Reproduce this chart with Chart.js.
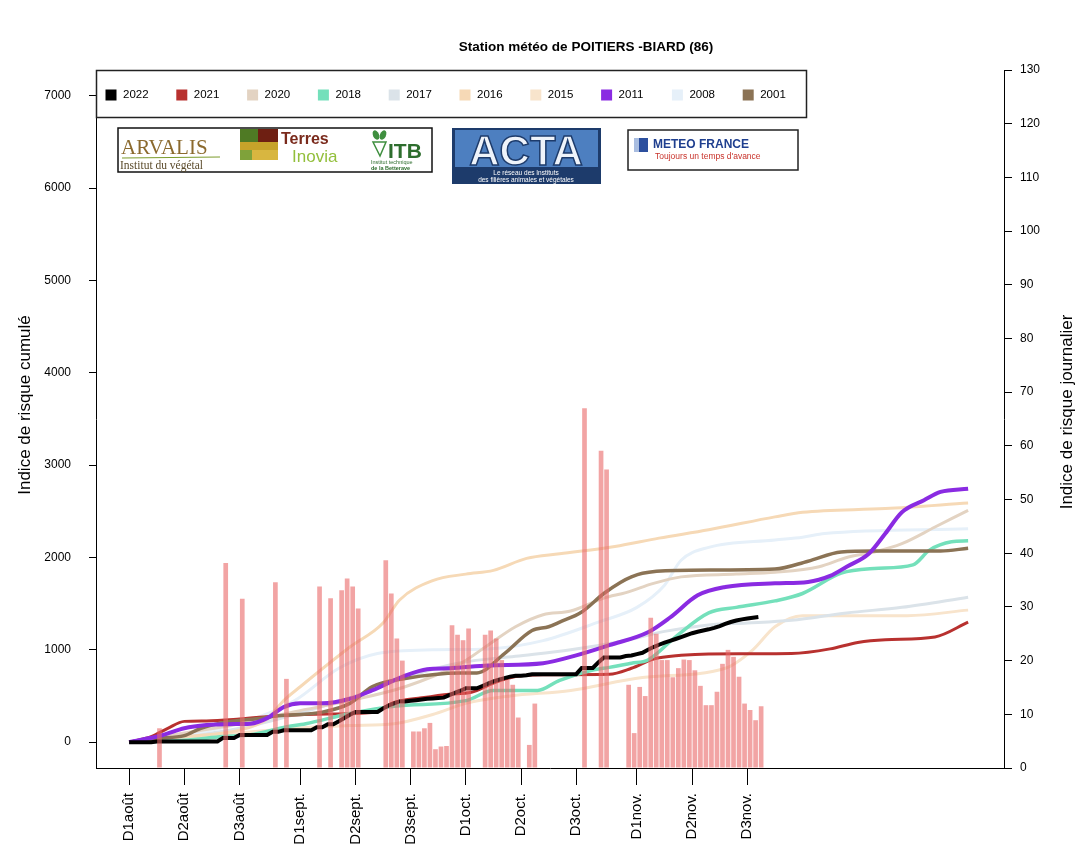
<!DOCTYPE html>
<html>
<head>
<meta charset="utf-8">
<script src="https://cdn.jsdelivr.net/npm/chart.js@4.4.1/dist/chart.umd.min.js"></script>
<style>
  html, body { margin: 0; padding: 0; background: #fff; }
</style>
</head>
<body>
<canvas id="chart" width="1082" height="844"></canvas>
<script>
const FONT = "'Liberation Sans', Arial, sans-serif";
const chartTitle = 'Station météo de POITIERS -BIARD (86)';
const leftTitle = 'Indice de risque cumulé';
const rightTitle = 'Indice de risque journalier';

// x axis: days since 1 August
const tickDays = [0, 10, 20, 31, 41, 51, 61, 71, 81, 92, 102, 112];
const tickLabels = ['D1août', 'D2août', 'D3août', 'D1sept.', 'D2sept.', 'D3sept.',
  'D1oct.', 'D2oct.', 'D3oct.', 'D1nov.', 'D2nov.', 'D3nov.'];
const leftTicks = [0, 1000, 2000, 3000, 4000, 5000, 6000, 7000];

// daily risk 2022 (right axis), days with a non-zero value
const riskDays = [5, 17, 20, 26, 28, 34, 36, 38, 39, 40, 41, 46, 47, 48, 49, 51, 52, 53, 54, 55, 56, 57,
  58, 59, 60, 61, 64, 65, 66, 67, 68, 69, 70, 72, 73, 82, 85, 86, 90, 91, 92, 93, 94, 95, 96, 97,
  98, 99, 100, 101, 102, 103, 104, 105, 106, 107, 108, 109, 110, 111, 112, 113, 114];
const riskValues = [7.4, 38.2, 31.5, 34.6, 16.6, 33.8, 31.6, 33.1, 35.3, 33.8, 29.7, 38.7, 32.5, 24.1, 20.0,
  6.8, 6.8, 7.4, 8.4, 3.5, 4.0, 4.1, 26.6, 24.8, 23.8, 26.0, 24.8, 25.6, 24.1, 20.1, 16.4, 15.5, 9.4,
  4.3, 12.0, 67.0, 59.1, 55.6, 15.5, 6.5, 15.1, 13.4, 28.0, 25.0, 20.1, 20.1, 16.9, 18.6, 20.2, 20.1,
  18.2, 15.3, 11.7, 11.7, 14.2, 19.4, 22.0, 20.7, 17.0, 12.0, 10.8, 8.9, 11.5];

// cumulative risk 2022, one value per day from 1 August
const cumul2022 = [0, 0, 0, 0, 0, 7, 7, 7, 7, 7, 7, 7, 7, 7, 7, 7, 7, 46, 46, 46, 77, 77, 77, 77, 77, 77,
  112, 112, 128, 128, 128, 128, 128, 128, 162, 162, 194, 194, 227, 262, 296, 326, 326, 326, 326, 326,
  364, 397, 421, 441, 441, 448, 455, 462, 470, 474, 478, 482, 509, 533, 557, 583, 583, 583,
  608, 634, 658, 678, 694, 710, 719, 719, 724, 736, 736, 736, 736, 736, 736, 736, 736, 736,
  803, 803, 803, 862, 917, 917, 917, 917, 933, 939, 954, 968, 1000, 1030, 1055, 1078, 1097, 1117,
  1138, 1160, 1180, 1196, 1209, 1222, 1237, 1257, 1280, 1301, 1318, 1330, 1340, 1348, 1356];

// previous years, cumulative risk
const days2021 = [0, 4, 7, 10, 14, 20, 28, 36, 44, 48, 53, 58, 62, 66, 70, 75, 87, 91, 95, 100, 105, 120, 127, 132, 137, 146, 152];
const vals2021 = [0, 60, 150, 225, 230, 250, 290, 305, 320, 430, 480, 520, 540, 640, 710, 730, 735, 800, 900, 940, 955, 960, 1010, 1080, 1110, 1140, 1300];
const days2020 = [0, 10, 20, 30, 40, 50, 60, 65, 70, 75, 80, 86, 90, 95, 100, 110, 117, 125, 130, 135, 140, 146, 152];
const vals2020 = [0, 100, 200, 330, 450, 600, 850, 1050, 1250, 1380, 1420, 1560, 1620, 1720, 1790, 1820, 1840, 1900, 2000, 2060, 2150, 2330, 2510];
const days2018 = [0, 10, 17, 22, 28, 32, 40, 48, 61, 66, 74, 78, 84, 87, 91, 94, 99, 105, 110, 117, 122, 129, 135, 142, 145, 149, 152];
const vals2018 = [0, 20, 60, 80, 160, 200, 310, 390, 450, 560, 560, 670, 780, 810, 855, 890, 1140, 1400, 1460, 1530, 1610, 1830, 1880, 1920, 2080, 2170, 2180];
const days2017 = [0, 10, 20, 30, 40, 50, 60, 70, 80, 90, 97, 105, 112, 120, 130, 140, 152];
const vals2017 = [0, 60, 150, 300, 480, 700, 860, 930, 1000, 1100, 1200, 1270, 1290, 1320, 1400, 1460, 1570];
const days2016 = [0, 10, 20, 25, 28, 31, 40, 46, 49, 55, 61, 66, 72, 78, 88, 96, 105, 117, 122, 137, 152];
const vals2016 = [0, 60, 130, 250, 450, 600, 1030, 1290, 1540, 1750, 1820, 1860, 1990, 2040, 2120, 2210, 2300, 2440, 2490, 2530, 2590];
const days2015 = [0, 10, 20, 30, 40, 48, 55, 61, 69, 80, 93, 108, 113, 117, 122, 141, 152];
const vals2015 = [0, 50, 100, 150, 180, 200, 300, 420, 500, 560, 700, 800, 1000, 1250, 1370, 1370, 1430];
const days2011 = [0, 6, 10, 14, 18, 22, 25, 28, 31, 35, 40, 44, 50, 54, 58, 65, 75, 81, 87, 94, 98, 103, 108, 117, 123, 127, 130, 134, 137, 140, 144, 147, 152];
const vals2011 = [0, 75, 150, 185, 195, 200, 260, 380, 420, 420, 470, 560, 720, 790, 800, 830, 855, 940, 1050, 1190, 1350, 1590, 1680, 1720, 1735, 1800, 1900, 2040, 2260, 2490, 2620, 2710, 2745];
const days2008 = [0, 10, 20, 30, 38, 45, 55, 65, 75, 85, 92, 97, 100, 105, 117, 122, 126, 152];
const vals2008 = [0, 80, 200, 450, 800, 960, 1000, 1010, 1100, 1300, 1460, 1700, 1970, 2110, 2190, 2220, 2260, 2310];
const days2001 = [0, 5, 10, 13, 18, 24, 27, 35, 40, 44, 50, 60, 63, 68, 73, 76, 78, 82, 86, 89, 91, 93, 99, 117, 123, 129, 135, 147, 152];
const vals2001 = [0, 40, 70, 150, 220, 260, 285, 325, 420, 600, 690, 750, 750, 960, 1210, 1250, 1300, 1410, 1610, 1730, 1790, 1830, 1860, 1875, 1960, 2060, 2070, 2070, 2100];

function pts(days, vals) {
  return days.map((d, i) => ({ x: d, y: vals[i] }));
}

function line(label, data, color, width, order, smooth) {
  return {
    type: 'line', label, data, yAxisID: 'y',
    borderColor: color, backgroundColor: color, borderWidth: width,
    pointRadius: 0, order,
    tension: smooth ? 0.4 : 0,
    cubicInterpolationMode: smooth ? 'monotone' : 'default'
  };
}

// legend order
const datasets = [
  line('2022', cumul2022.map((v, d) => ({ x: d, y: v })), '#000000', 4, 1, false),
  line('2021', pts(days2021, vals2021), '#b8312f', 3, 5, true),
  line('2020', pts(days2020, vals2020), '#e3d3c2', 3, 6, true),
  line('2018', pts(days2018, vals2018), '#74e0bb', 3.5, 4, true),
  line('2017', pts(days2017, vals2017), '#dbe3e9', 3, 9, true),
  line('2016', pts(days2016, vals2016), '#f6d9b6', 3, 7, true),
  line('2015', pts(days2015, vals2015), '#f8e4cc', 3, 10, true),
  line('2011', pts(days2011, vals2011), '#8a2be2', 4, 2, true),
  line('2008', pts(days2008, vals2008), '#e6f0f9', 3, 8, true),
  line('2001', pts(days2001, vals2001), '#8b7355', 3.5, 3, true),
  {
    type: 'bar', label: 'journalier 2022', yAxisID: 'y1', order: 0,
    data: riskDays.map((d, i) => ({ x: d + 0.5, y: riskValues[i] })),
    backgroundColor: 'rgba(234, 104, 104, 0.6)',
    barPercentage: 0.85, categoryPercentage: 1
  }
];

function drawLogos(ctx) {
  ctx.textAlign = 'left';
  ctx.textBaseline = 'alphabetic';
  // ARVALIS / Terres Inovia / ITB
  ctx.fillStyle = '#fff';
  ctx.fillRect(118, 128, 314, 44);
  ctx.strokeStyle = '#111';
  ctx.lineWidth = 1.5;
  ctx.strokeRect(118, 128, 314, 44);
  ctx.font = '21px "Liberation Serif", serif';
  ctx.fillStyle = '#8b6a2e';
  ctx.fillText('ARVALIS', 121, 154);
  ctx.strokeStyle = '#7c9c2c';
  ctx.lineWidth = 1.2;
  ctx.beginPath(); ctx.moveTo(122, 158); ctx.lineTo(220, 157); ctx.stroke();
  ctx.font = '11.5px "Liberation Serif", serif';
  ctx.fillStyle = '#5a4a2a';
  ctx.fillText('Institut du végétal', 120, 169);

  ctx.fillStyle = '#4f7a24'; ctx.fillRect(240, 129, 18, 13);
  ctx.fillStyle = '#6e1f12'; ctx.fillRect(258, 129, 20, 13);
  ctx.fillStyle = '#c6a32a'; ctx.fillRect(240, 142, 38, 8);
  ctx.fillStyle = '#7fa23a'; ctx.fillRect(240, 150, 12, 10);
  ctx.fillStyle = '#d8b640'; ctx.fillRect(252, 150, 26, 10);
  ctx.font = 'bold 16px ' + FONT;
  ctx.fillStyle = '#7a2a1c';
  ctx.fillText('Terres', 281, 144);
  ctx.font = '17px ' + FONT;
  ctx.fillStyle = '#93bf3c';
  ctx.fillText('Inovia', 292, 162);

  ctx.fillStyle = '#3f8f3f';
  ctx.beginPath(); ctx.ellipse(376, 135, 3, 5, -0.4, 0, Math.PI * 2); ctx.fill();
  ctx.beginPath(); ctx.ellipse(383, 135, 3, 5, 0.4, 0, Math.PI * 2); ctx.fill();
  ctx.strokeStyle = '#3f8f3f'; ctx.lineWidth = 1.5;
  ctx.beginPath(); ctx.moveTo(373, 142); ctx.lineTo(386, 142); ctx.lineTo(380, 156); ctx.closePath(); ctx.stroke();
  ctx.font = 'bold 21px ' + FONT;
  ctx.fillStyle = '#2e6e2e';
  ctx.fillText('ITB', 388, 158);
  ctx.font = '5.5px ' + FONT;
  ctx.fillText('Institut technique', 371, 164);
  ctx.font = 'bold 5.5px ' + FONT;
  ctx.fillText('de la Betterave', 371, 170);

  // ACTA
  ctx.fillStyle = '#1d3b6b';
  ctx.fillRect(452, 128, 149, 56);
  ctx.fillStyle = '#4d7fc0';
  ctx.fillRect(455, 130, 143, 37);
  ctx.textAlign = 'center';
  ctx.font = 'bold 42px ' + FONT;
  ctx.fillStyle = '#eef3fa';
  ctx.strokeStyle = '#1d3b6b';
  ctx.lineWidth = 1.5;
  ctx.fillText('ACTA', 526, 165);
  ctx.strokeText('ACTA', 526, 165);
  ctx.font = '6.5px ' + FONT;
  ctx.fillStyle = '#fff';
  ctx.fillText('Le réseau des Instituts', 526, 175);
  ctx.fillText('des filières animales et végétales', 526, 182);

  // METEO FRANCE
  ctx.textAlign = 'left';
  ctx.fillStyle = '#fff';
  ctx.fillRect(628, 130, 170, 40);
  ctx.strokeStyle = '#222';
  ctx.lineWidth = 1.5;
  ctx.strokeRect(628, 130, 170, 40);
  ctx.fillStyle = '#2c4f9e';
  ctx.fillRect(634, 138, 14, 14);
  ctx.fillStyle = '#a9bde0';
  ctx.fillRect(634, 138, 5, 14);
  ctx.font = 'bold 12px ' + FONT;
  ctx.fillStyle = '#1f3f8f';
  ctx.fillText('METEO FRANCE', 653, 148);
  ctx.font = '8.5px ' + FONT;
  ctx.fillStyle = '#c8332b';
  ctx.fillText("Toujours un temps d'avance", 655, 159);
}

const decor = {
  id: 'decor',
  afterDraw(chart) {
    const ctx = chart.ctx;
    ctx.save();
    ctx.fillStyle = '#000';
    ctx.font = 'bold 13.5px ' + FONT;
    ctx.textAlign = 'center';
    ctx.textBaseline = 'middle';
    ctx.fillText(chartTitle, 586, 47);

    ctx.font = '17px ' + FONT;
    ctx.save(); ctx.translate(25, 405); ctx.rotate(-Math.PI / 2); ctx.fillText(leftTitle, 0, 0); ctx.restore();
    ctx.save(); ctx.translate(1067, 412); ctx.rotate(-Math.PI / 2); ctx.fillText(rightTitle, 0, 0); ctx.restore();

    // legend box
    ctx.fillStyle = '#fff';
    ctx.fillRect(96, 70, 710, 47);
    ctx.strokeStyle = '#222';
    ctx.lineWidth = 1.5;
    ctx.strokeRect(96.5, 70.5, 710, 47);
    ctx.font = '11.5px ' + FONT;
    ctx.textAlign = 'left';
    chart.data.datasets.filter(d => d.type === 'line').forEach((d, i) => {
      const cx = 111 + i * 70.8;
      ctx.fillStyle = d.borderColor;
      ctx.fillRect(cx - 5.5, 89.5, 11, 11);
      ctx.fillStyle = '#000';
      ctx.fillText(d.label, cx + 12, 95);
    });

    drawLogos(ctx);
    ctx.restore();
  }
};

const tickFont = { family: FONT, size: 12 };
const axisGrid = (len) => ({ drawOnChartArea: false, drawTicks: true, tickLength: len, tickColor: '#000', tickWidth: 1, offset: false });
const axisBorder = { display: true, color: '#000', width: 1 };

new Chart(document.getElementById('chart'), {
  data: { datasets },
  plugins: [decor],
  options: {
    responsive: false,
    animation: false,
    layout: { padding: { top: 70, left: 0, right: 0, bottom: 0 } },
    plugins: { legend: { display: false }, tooltip: { enabled: false }, title: { display: false } },
    scales: {
      x: {
        type: 'linear', position: 'bottom', min: -6, max: 158.5, offset: false,
        grid: axisGrid(17), border: axisBorder,
        afterBuildTicks: (axis) => { axis.ticks = tickDays.map(v => ({ value: v })); },
        afterFit: (axis) => { axis.height = 76; },
        ticks: {
          autoSkip: false, minRotation: 90, maxRotation: 90, padding: 8,
          color: '#000', font: { family: FONT, size: 15 },
          callback: (v) => tickLabels[tickDays.indexOf(v)]
        }
      },
      y: {
        type: 'linear', position: 'left', min: -280, max: 7280,
        grid: axisGrid(7), border: axisBorder,
        afterBuildTicks: (axis) => { axis.ticks = leftTicks.map(v => ({ value: v })); },
        afterFit: (axis) => { axis.width = 96; },
        ticks: { padding: 18, color: '#000', font: tickFont, callback: (v) => String(v) }
      },
      y1: {
        type: 'linear', position: 'right', min: 0, max: 130,
        grid: axisGrid(8), border: axisBorder,
        afterFit: (axis) => { axis.width = 78; },
        ticks: { stepSize: 10, padding: 8, color: '#000', font: tickFont, callback: (v) => String(v) }
      }
    }
  }
});
</script>
</body>
</html>
